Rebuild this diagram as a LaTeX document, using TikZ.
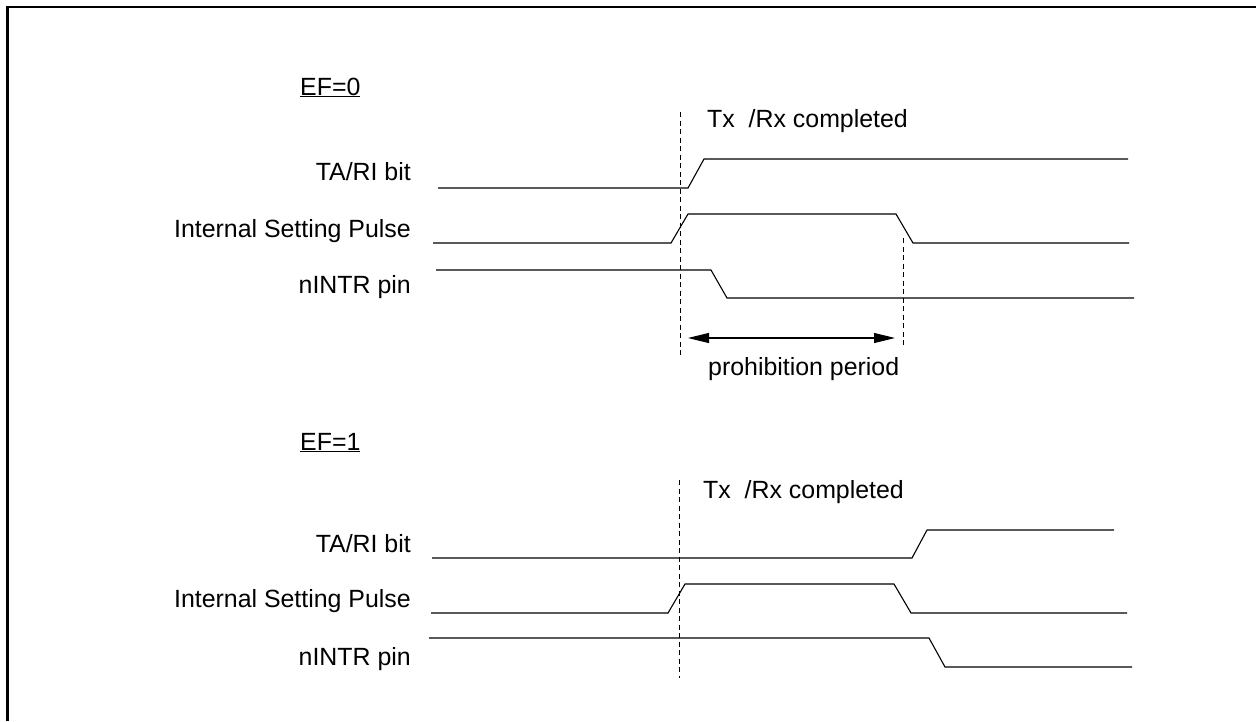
\documentclass[tikz,border=0pt]{standalone}
\usepackage{fontspec}
\setmainfont{Liberation Sans}
\usetikzlibrary{arrows.meta}
\begin{document}
\begin{tikzpicture}[x=1pt,y=-1pt,
  lbl/.style={inner sep=0pt, font=\fontsize{24.9}{29}\selectfont},
  sig/.style={line width=1.1pt, line join=miter},
  guide/.style={line width=0.8pt, dash pattern=on 5pt off 3.5pt},
  frameline/.style={line width=2.4pt},
  dimarrow/.style={line width=1.1pt, {Triangle[length=21pt,width=10pt]}-{Triangle[length=21pt,width=10pt]}}]
\useasboundingbox (0,0) rectangle (1256,721);
% frame (partially visible)
\draw[frameline] (7.6,721) -- (7.6,6.8) -- (1256,6.8);

% ---------- EF=0 ----------
\node[lbl, anchor=base west] (ef0) at (300,95) {\underline{EF=0}};
\node[lbl, anchor=base east] (ta0) at (411,180) {TA/RI bit};
\node[lbl, anchor=base east] (isp0) at (411,237) {Internal Setting Pulse};
\node[lbl, anchor=base east] (int0) at (411,293) {nINTR pin};
\node[lbl, anchor=base west] (tx0) at (707,127) {Tx\ \ /Rx completed};
\node[lbl, anchor=base west] (pp) at (708,375) {prohibition period};

\draw[guide] (680,112) -- (680,356);
\draw[guide] (903,238) -- (903,347);

\draw[sig] (438,188) -- (688,188) -- (704,159) -- (1128,159);
\draw[sig] (433,243) -- (671,243) -- (688,214) -- (896,214) -- (913,243) -- (1129,243);
\draw[sig] (436,270) -- (711,270) -- (727,298) -- (1134,298);

\coordinate (pa) at (688,338);
\coordinate (pb) at (895,338);
\draw[dimarrow] (pa) -- (pb);

% ---------- EF=1 ----------
\node[lbl, anchor=base west] (ef1) at (300,450) {\underline{EF=1}};
\node[lbl, anchor=base east] (ta1) at (411,552) {TA/RI bit};
\node[lbl, anchor=base east] (isp1) at (411,607) {Internal Setting Pulse};
\node[lbl, anchor=base east] (int1) at (411,665) {nINTR pin};
\node[lbl, anchor=base west] (tx1) at (703,498) {Tx\ \ /Rx completed};

\draw[guide] (679,480) -- (679,678);

\draw[sig] (432,558) -- (912,558) -- (927,530) -- (1114,530);
\draw[sig] (431,613) -- (668,613) -- (685,584) -- (894,584) -- (911,613) -- (1127,613);
\draw[sig] (429,638) -- (929,638) -- (945,667) -- (1132,667);
\end{tikzpicture}
\end{document}
